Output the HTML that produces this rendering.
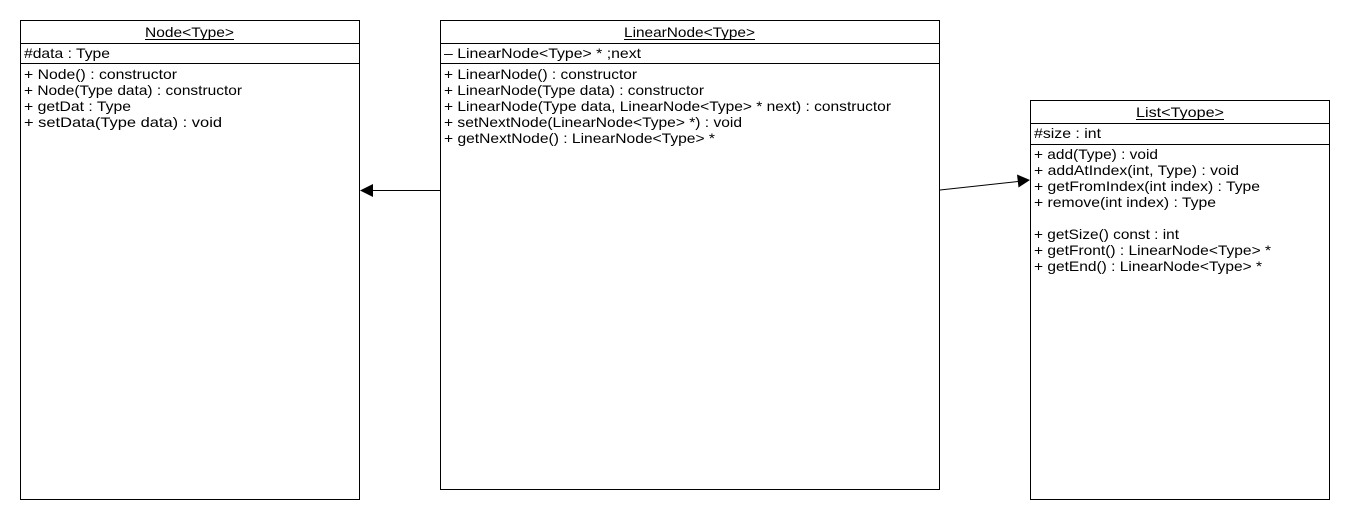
<!DOCTYPE html>
<html><head><meta charset="utf-8"><style>
html,body{margin:0;padding:0;background:#fff;}
svg{display:block;}
text{font-family:"Liberation Sans",sans-serif;font-size:14px;fill:#000;}
</style></head><body>
<svg width="1350" height="520" viewBox="0 0 1350 520" xmlns="http://www.w3.org/2000/svg">
<g fill="#fff" stroke="#000" stroke-width="1">
<rect x="20.5" y="20.5" width="339" height="479"/>
<line x1="20" y1="43.5" x2="360" y2="43.5"/>
<line x1="20" y1="63.5" x2="360" y2="63.5"/>
<rect x="440.5" y="20.5" width="499" height="469"/>
<line x1="440" y1="43.5" x2="940" y2="43.5"/>
<line x1="440" y1="63.5" x2="940" y2="63.5"/>
<rect x="1030.5" y="100.5" width="299" height="399"/>
<line x1="1030" y1="123.5" x2="1330" y2="123.5"/>
<line x1="1030" y1="144.5" x2="1330" y2="144.5"/>
</g>
<g lengthAdjust="spacingAndGlyphs">
<!-- Node -->
<text x="145" y="37" textLength="89" lengthAdjust="spacingAndGlyphs">Node&lt;Type&gt;</text>
<line x1="145" y1="39.5" x2="234" y2="39.5" stroke="#000"/>
<text x="24" y="58" textLength="86" lengthAdjust="spacingAndGlyphs">#data : Type</text>
<text x="24" y="79" textLength="153" lengthAdjust="spacingAndGlyphs">+ Node() : constructor</text>
<text x="24" y="95" textLength="218" lengthAdjust="spacingAndGlyphs">+ Node(Type data) : constructor</text>
<text x="24" y="111" textLength="107" lengthAdjust="spacingAndGlyphs">+ getDat : Type</text>
<text x="24" y="127" textLength="198" lengthAdjust="spacingAndGlyphs">+ setData(Type data) : void</text>
<!-- LinearNode -->
<text x="624" y="37" textLength="131" lengthAdjust="spacingAndGlyphs">LinearNode&lt;Type&gt;</text>
<line x1="624" y1="39.5" x2="755" y2="39.5" stroke="#000"/>
<text x="444" y="58" textLength="197" lengthAdjust="spacingAndGlyphs">– LinearNode&lt;Type&gt; * ;next</text>
<text x="444" y="79" textLength="193" lengthAdjust="spacingAndGlyphs">+ LinearNode() : constructor</text>
<text x="444" y="95" textLength="260" lengthAdjust="spacingAndGlyphs">+ LinearNode(Type data) : constructor</text>
<text x="444" y="111" textLength="447" lengthAdjust="spacingAndGlyphs">+ LinearNode(Type data, LinearNode&lt;Type&gt; * next) : constructor</text>
<text x="444" y="127" textLength="298" lengthAdjust="spacingAndGlyphs">+ setNextNode(LinearNode&lt;Type&gt; *) : void</text>
<text x="444" y="143" textLength="271" lengthAdjust="spacingAndGlyphs">+ getNextNode() : LinearNode&lt;Type&gt; *</text>
<!-- List -->
<text x="1136" y="117" textLength="88" lengthAdjust="spacingAndGlyphs">List&lt;Tyope&gt;</text>
<line x1="1136" y1="119.5" x2="1224" y2="119.5" stroke="#000"/>
<text x="1034" y="138" textLength="67" lengthAdjust="spacingAndGlyphs">#size : int</text>
<text x="1034" y="159" textLength="124" lengthAdjust="spacingAndGlyphs">+ add(Type) : void</text>
<text x="1034" y="175" textLength="205" lengthAdjust="spacingAndGlyphs">+ addAtIndex(int, Type) : void</text>
<text x="1034" y="191" textLength="226" lengthAdjust="spacingAndGlyphs">+ getFromIndex(int index) : Type</text>
<text x="1034" y="207" textLength="182" lengthAdjust="spacingAndGlyphs">+ remove(int index) : Type</text>
<text x="1034" y="239" textLength="145" lengthAdjust="spacingAndGlyphs">+ getSize() const : int</text>
<text x="1034" y="255" textLength="237" lengthAdjust="spacingAndGlyphs">+ getFront() : LinearNode&lt;Type&gt; *</text>
<text x="1034" y="271" textLength="228" lengthAdjust="spacingAndGlyphs">+ getEnd() : LinearNode&lt;Type&gt; *</text>
</g>
<!-- connectors -->
<line x1="440" y1="190.5" x2="372" y2="190.5" stroke="#000"/>
<polygon points="360,190.5 373,184 373,197" fill="#000"/>
<line x1="940" y1="190" x2="1018" y2="181.5" stroke="#000"/>
<polygon points="1030,180 1017,174.5 1018.5,187.5" fill="#000"/>
</svg>
</body></html>
